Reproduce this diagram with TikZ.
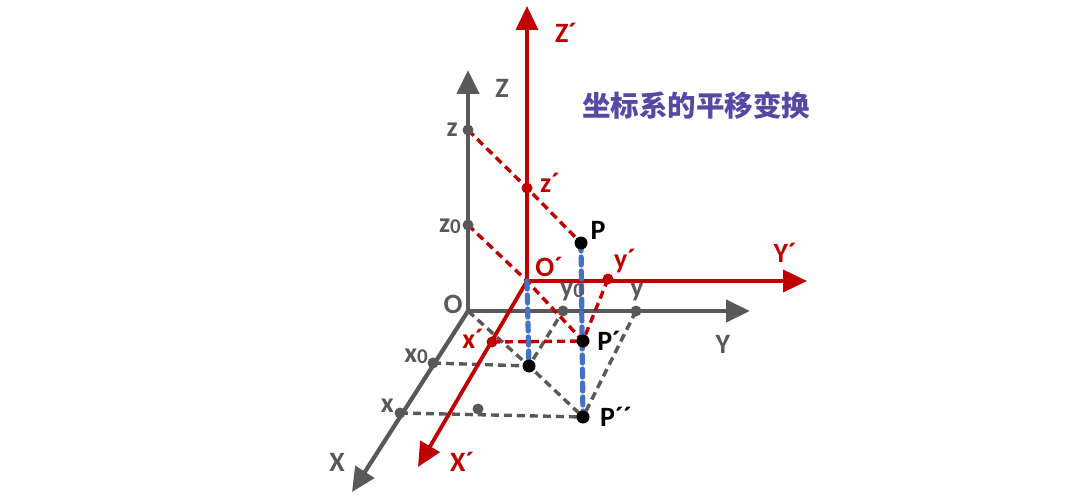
\documentclass[tikz,border=0pt]{standalone}
\usepackage{fontspec}
\setmainfont{Carlito}
\newfontfamily\cjk{Noto Sans CJK SC}
\usetikzlibrary{arrows.meta}
\definecolor{gr}{RGB}{89,89,89}
\definecolor{rd}{RGB}{192,0,0}
\definecolor{bl}{RGB}{68,114,196}
\definecolor{pu}{RGB}{87,72,165}
\begin{document}
\begin{tikzpicture}[x=1pt,y=-1pt,
  gaxis/.style={draw=gr,line width=4.2pt,-{Triangle[length=24pt,width=22pt]}},
  raxis/.style={draw=rd,line width=3.8pt,-{Triangle[length=24pt,width=22pt]}},
  gdash/.style={draw=gr,line width=3.4pt,dash pattern=on 8pt off 5pt},
  rdash/.style={draw=rd,line width=3.4pt,dash pattern=on 8pt off 5pt},
  bdash/.style={draw=bl,line width=5.2pt,dash pattern=on 8pt off 6pt,line cap=round},
  glab/.style={text=gr,font=\bfseries\fontsize{28}{28}\selectfont,inner sep=0pt},
  rlab/.style={text=rd,font=\bfseries\fontsize{28}{28}\selectfont,inner sep=0pt},
  klab/.style={text=black,font=\bfseries\fontsize{28}{28}\selectfont,inner sep=0pt},
  sub/.style={}]
\useasboundingbox (0,0) rectangle (1090,500);
% points
\coordinate (O) at (468,311);
\coordinate (Ztip) at (468,70);
\coordinate (Ytip) at (750,311);
\coordinate (Xtip) at (352,492);
\coordinate (Op) at (527,281);
\coordinate (Zptip) at (527,6);
\coordinate (Yptip) at (807,281);
\coordinate (Xptip) at (418,467);
\coordinate (z) at (468,130);
\coordinate (z0) at (468,225);
\coordinate (x0) at (433,363);
\coordinate (x) at (400,413);
\coordinate (y0) at (563,311);
\coordinate (y) at (636,311);
\coordinate (stray) at (478,409);
\coordinate (zp) at (527,188);
\coordinate (yp) at (608,279);
\coordinate (xp) at (492,342);
\coordinate (P) at (581,243);
\coordinate (Pp) at (583,341);
\coordinate (Ppp) at (583,417);
\coordinate (Q) at (529,366);
% gray dashed
\draw[gdash] (O) -- (Q) -- (Ppp);
\draw[gdash] (x0) -- (Q) -- (y0);
\draw[gdash] (x) -- (Ppp);
\draw[gdash] (y) -- (Ppp);
% gray axes
\draw[gaxis] (O) -- (Ztip);
\draw[gaxis] (O) -- (Ytip);
\draw[gaxis] (O) -- (Xtip);
% red dashed
\draw[rdash] (z) -- (zp) -- (P);
\draw[rdash] (z0) -- (Op) -- (Pp);
\draw[rdash] (xp) -- (Pp);
\draw[rdash] (yp) -- (Pp);
% red axes
\draw[raxis] (Op) -- (Zptip);
\draw[raxis] (Op) -- (Yptip);
\draw[raxis] (Op) -- (Xptip);
% blue dashed
\draw[bdash] (P) -- (Ppp);
\draw[bdash] (Op) -- (Q);
% dots
\foreach \n in {z,z0,x0,x,y0,y,stray} \fill[gr] (\n) circle (5.5pt);
\foreach \n in {zp,yp,xp} \fill[rd] (\n) circle (5.5pt);
\foreach \n in {P,Pp,Ppp,Q} \fill[black] (\n) circle (6.5pt);
% labels
\node[glab] (lZ) at (502,88) {Z};
\node[glab] (lY) at (723,344) {Y};
\node[glab] (lX) at (337,462) {X};
\node[glab] (lO) at (453,304) {O};
\node[glab,anchor=east] (lz) at (458,130) {z};
\node[glab,anchor=east] (lz0) at (461,226) {z\raisebox{-1pt}{\fontsize{21}{21}\selectfont 0}};
\node[glab,anchor=east] (lx0) at (428,356) {x\raisebox{-1pt}{\fontsize{21}{21}\selectfont 0}};
\node[glab,anchor=east] (lx) at (394,406) {x};
\node[glab] (ly0) at (572,292) {y\raisebox{-1pt}{\fontsize{21}{21}\selectfont 0}};
\node[glab] (ly) at (637,292) {y};
\node[rlab] (lZp) at (566,33) {Z´};
\node[rlab] (lYp) at (785,253) {Y´};
\node[rlab] (lXp) at (462,462) {X´};
\node[rlab] (lOp) at (549,267) {O´};
\node[rlab] (lzp) at (550,183) {z´};
\node[rlab] (lyp) at (625,261) {y´};
\node[rlab] (lxp) at (473,339) {x´};
\node[klab] (lP) at (598,230) {P};
\node[klab] (lPp) at (609,341) {P´};
\node[klab] (lPpp) at (616,417) {P´´};
\node[text=pu,font=\cjk\bfseries\fontsize{28.5}{28.5}\selectfont,inner sep=0pt] (title) at (696,106) {坐标系的平移变换};
\end{tikzpicture}
\end{document}
